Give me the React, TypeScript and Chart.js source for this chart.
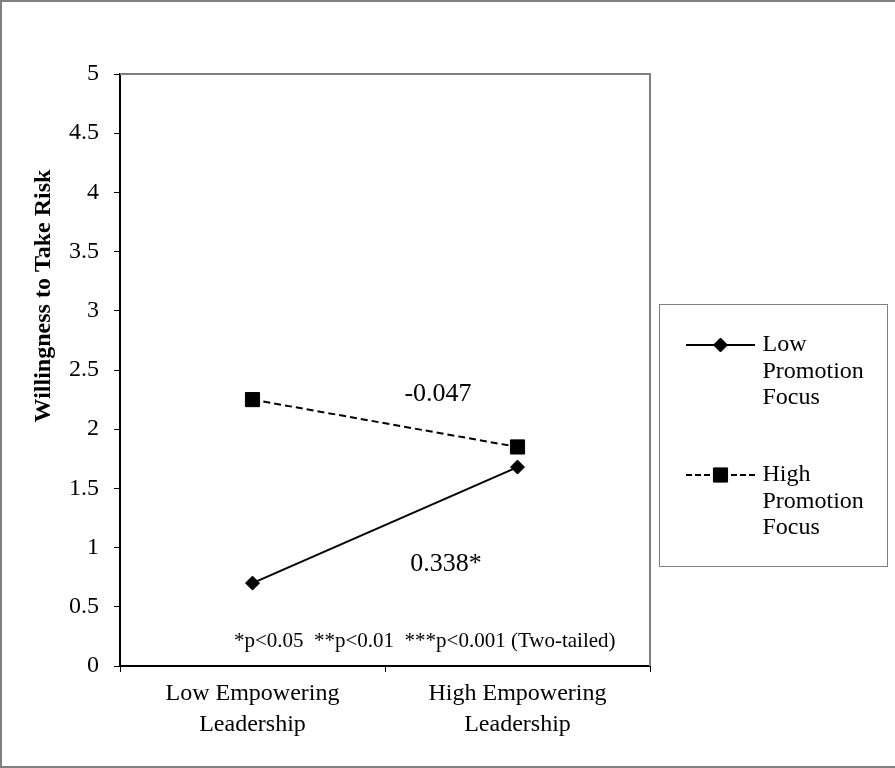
import React, { useEffect, useRef } from "react";
import { Chart, registerables } from "chart.js";

Chart.register(...registerables);

const categories: string[][] = [
  ["Low Empowering", "Leadership"],
  ["High Empowering", "Leadership"],
];
const seriesNames: string[] = ["Low Promotion Focus", "High Promotion Focus"];
const legendLines: string[][] = [
  ["Low", "Promotion", "Focus"],
  ["High", "Promotion", "Focus"],
];
const lowPromotion: number[] = [0.7, 1.68];
const highPromotion: number[] = [2.25, 1.85];
const yTicks: number[] = [0, 0.5, 1, 1.5, 2, 2.5, 3, 3.5, 4, 4.5, 5];
const yTitle = "Willingness to Take Risk";
// annotations: text, category index position, value
const slopeLabels: { text: string; x: number; y: number }[] = [
  { text: "-0.047", x: 0.7, y: 2.3 },
  { text: "0.338*", x: 0.73, y: 0.86 },
];
const noteText = "*p<0.05  **p<0.01  ***p<0.001 (Two-tailed)";
const noteX = 0.65;
const noteY = 0.205;

const SERIF = "'Liberation Serif', 'Times New Roman', serif";

function drawMarker(ctx: CanvasRenderingContext2D, style: string, x: number, y: number, r: number) {
  ctx.beginPath();
  if (style === "rectRot") {
    ctx.moveTo(x - r, y);
    ctx.lineTo(x, y - r);
    ctx.lineTo(x + r, y);
    ctx.lineTo(x, y + r);
    ctx.closePath();
  } else {
    const h = r * Math.SQRT1_2;
    ctx.rect(x - h, y - h, 2 * h, 2 * h);
  }
  ctx.fillStyle = "#000";
  ctx.fill();
  ctx.lineWidth = 1;
  ctx.setLineDash([]);
  ctx.strokeStyle = "#000";
  ctx.stroke();
}

const decorPlugin = {
  id: "decor",
  beforeDraw(chart: any) {
    const ctx: CanvasRenderingContext2D = chart.ctx;
    const { width, height } = chart;
    ctx.save();
    ctx.fillStyle = "#fff";
    ctx.fillRect(0, 0, width, height);
    ctx.strokeStyle = "#808080";
    ctx.lineWidth = 2;
    ctx.beginPath();
    ctx.moveTo(width + 2, 1);
    ctx.lineTo(1, 1);
    ctx.lineTo(1, height - 1);
    ctx.lineTo(width + 2, height - 1);
    ctx.stroke();
    ctx.restore();
  },
  afterDraw(chart: any) {
    const ctx: CanvasRenderingContext2D = chart.ctx;
    const area = chart.chartArea;
    const xs = chart.scales.x;
    const ys = chart.scales.y;
    ctx.save();
    ctx.strokeStyle = "#808080";
    ctx.lineWidth = 2;
    ctx.beginPath();
    ctx.moveTo(area.left, area.top);
    ctx.lineTo(area.right, area.top);
    ctx.lineTo(area.right, area.bottom);
    ctx.stroke();

    // y title
    ctx.save();
    ctx.translate(44, area.top + 222);
    ctx.rotate(-Math.PI / 2);
    ctx.font = `bold 24px ${SERIF}`;
    ctx.fillStyle = "#000";
    ctx.textAlign = "center";
    ctx.textBaseline = "middle";
    ctx.fillText(yTitle, 0, 0);
    ctx.restore();

    ctx.fillStyle = "#000";
    ctx.textAlign = "center";
    ctx.textBaseline = "middle";
    ctx.font = `26px ${SERIF}`;
    for (const s of slopeLabels) {
      ctx.fillText(s.text, xs.getPixelForValue(s.x), ys.getPixelForValue(s.y));
    }
    ctx.font = `21px ${SERIF}`;
    ctx.fillText(noteText, xs.getPixelForValue(noteX), ys.getPixelForValue(noteY));

    // legend
    const bx = area.right + 9.5;
    const by = 304.5;
    const bw = 228;
    const bh = 262;
    ctx.strokeStyle = "#808080";
    ctx.lineWidth = 1;
    ctx.strokeRect(bx, by, bw, bh);
    chart.data.datasets.forEach((ds: any, i: number) => {
      const y0 = 345 + i * 130;
      const x1 = bx + 26.5;
      const x2 = bx + 95.5;
      const xm = bx + 61;
      ctx.save();
      ctx.strokeStyle = "#000";
      ctx.lineWidth = 2;
      ctx.setLineDash(ds.borderDash && ds.borderDash.length ? [6, 3] : []);
      ctx.beginPath();
      ctx.moveTo(x1, y0);
      ctx.lineTo(x2, y0);
      ctx.stroke();
      ctx.restore();
      drawMarker(ctx, ds.pointStyle, xm, y0, ds.pointRadius);
      ctx.fillStyle = "#000";
      ctx.textAlign = "left";
      ctx.textBaseline = "middle";
      ctx.font = `24px ${SERIF}`;
      legendLines[i].forEach((t, k) => {
        ctx.fillText(t, bx + 103, y0 + k * 26.5);
      });
    });
    ctx.restore();
  },
};

export default function App() {
  const ref = useRef<HTMLCanvasElement | null>(null);
  useEffect(() => {
    document.body.style.margin = "0";
    const canvas = ref.current!;
    const chart = new Chart(canvas, {
      type: "line",
      data: {
        labels: categories as any,
        datasets: [
          {
            label: seriesNames[0],
            data: lowPromotion,
            borderColor: "#000",
            backgroundColor: "#000",
            borderWidth: 2,
            pointStyle: "rectRot",
            pointRadius: 7,
            pointBorderWidth: 1,
            pointBackgroundColor: "#000",
            pointBorderColor: "#000",
            tension: 0,
          },
          {
            label: seriesNames[1],
            data: highPromotion,
            borderColor: "#000",
            backgroundColor: "#000",
            borderWidth: 2,
            borderDash: [7, 4],
            pointStyle: "rect",
            pointRadius: 10,
            pointBorderWidth: 1,
            pointBackgroundColor: "#000",
            pointBorderColor: "#000",
            tension: 0,
          },
        ],
      },
      options: {
        responsive: false,
        animation: false,
        devicePixelRatio: 1,
        layout: { padding: { left: 0, top: 74, right: 245, bottom: 0 } },
        plugins: {
          legend: { display: false },
          tooltip: { enabled: false },
        },
        scales: {
          x: {
            type: "category",
            offset: true,
            grid: {
              offset: true,
              drawOnChartArea: false,
              drawTicks: true,
              tickLength: 6,
              color: "#000",
              lineWidth: 1,
            },
            border: { color: "#000", width: 2 },
            ticks: {
              color: "#000",
              font: { family: SERIF, size: 24, lineHeight: 1.3 },
              padding: 6,
              maxRotation: 0,
              autoSkip: false,
            },
            afterFit: (s: any) => {
              s.height = 102;
            },
          },
          y: {
            min: 0,
            max: 5,
            grid: {
              drawOnChartArea: false,
              drawTicks: true,
              tickLength: 6,
              color: "#000",
              lineWidth: 1,
            },
            border: { color: "#000", width: 2 },
            afterBuildTicks: (s: any) => {
              s.ticks = yTicks.map((v) => ({ value: v }));
            },
            ticks: {
              color: "#000",
              font: { family: SERIF, size: 24 },
              padding: 15,
              callback: (v: any) => String(v),
            },
            afterFit: (s: any) => {
              s.width = 120;
            },
          },
        },
      } as any,
      plugins: [decorPlugin],
    });
    return () => chart.destroy();
  }, []);
  return (
    <div style={{ position: "fixed", left: 0, top: 0, width: 895, height: 768 }}>
      <canvas ref={ref} width={895} height={768} style={{ display: "block" }} />
    </div>
  );
}
